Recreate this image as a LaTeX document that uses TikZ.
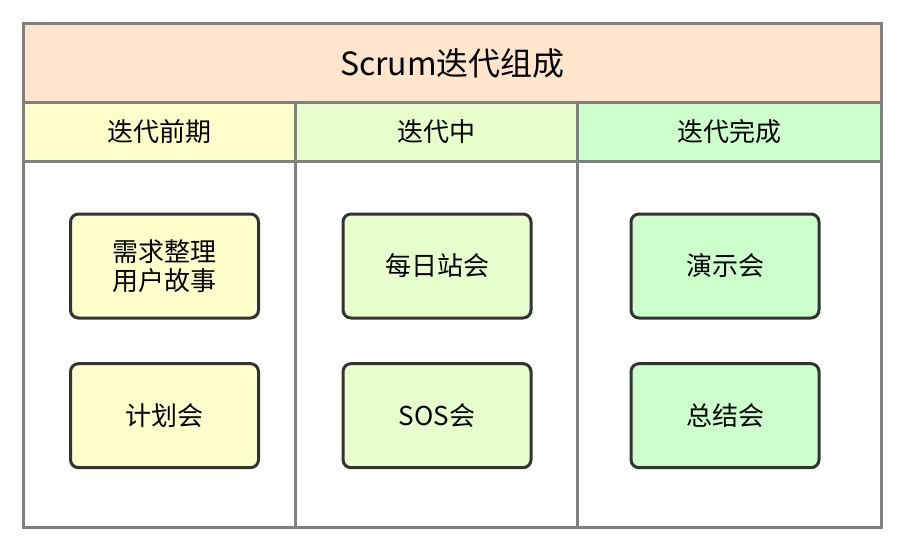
\documentclass[tikz,border=0pt]{standalone}
\usepackage{fontspec}
\setmainfont{Noto Sans CJK SC}
\usetikzlibrary{positioning}
\definecolor{myframe}{RGB}{128,128,128}
\definecolor{mytitle}{RGB}{255,229,204}
\definecolor{myyellow}{RGB}{255,255,204}
\definecolor{mylime}{RGB}{230,255,204}
\definecolor{mygreen}{RGB}{204,255,204}
\definecolor{myborder}{RGB}{51,51,51}
\tikzstyle{band}=[draw=myframe, line width=2.25pt, inner sep=0pt, anchor=north west]
\tikzstyle{head}=[band, minimum height=44.25pt, font=\fontsize{19.5}{23}\selectfont]
\tikzstyle{lane}=[band, fill=white, minimum height=274.5pt]
\tikzstyle{item}=[draw=myborder, line width=2.25pt, rounded corners=6pt, align=center,
    minimum width=141pt, minimum height=78pt, font=\fontsize{19.5}{22}\selectfont]

\begin{document}
\begin{tikzpicture}[x=0.75pt, y=-0.75pt]
\useasboundingbox (0,0) rectangle (906,544);

\node[band, fill=mytitle, minimum width=643.5pt, minimum height=59.25pt,
      font=\fontsize{24}{28}\selectfont] (title) at (22,22) {Scrum迭代组成};

% three lanes with their headers
\node[lane, minimum width=204pt] (prebody) at (22,160) {};
\node[lane, minimum width=211.5pt] (midbody) at (294,160) {};
\node[lane, minimum width=228pt] (postbody) at (576,160) {};
\node[head, fill=myyellow, minimum width=204pt] (pre) at (22,101) {迭代前期};
\node[head, fill=mylime, minimum width=211.5pt] (mid) at (294,101) {迭代中};
\node[head, fill=mygreen, minimum width=228pt] (post) at (576,101) {迭代完成};

\node[item, fill=myyellow] (backlog) at (164.5,266) {需求整理\\用户故事};
\node[item, fill=myyellow, below=32pt of backlog] (planning) {计划会};

\node[item, fill=mylime] (daily) at (437,266) {每日站会};
\node[item, fill=mylime, below=32pt of daily] (sos) {SOS会};

\node[item, fill=mygreen] (demo) at (725,266) {演示会};
\node[item, fill=mygreen, below=32pt of demo] (retro) {总结会};

\end{tikzpicture}
\end{document}
